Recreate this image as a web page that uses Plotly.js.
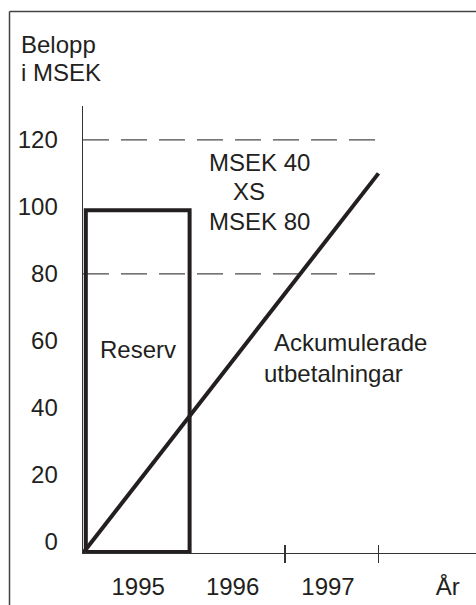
<!DOCTYPE html>
<html>
<head>
<meta charset="utf-8">
<script src="https://cdn.plot.ly/plotly-3.0.1.min.js"></script>
<style>
html,body{margin:0;padding:0;background:#fff;}
#chart{width:476px;height:605px;}
</style>
</head>
<body>
<div id="chart"></div>
<script>
// ---- data ----
const yearLabels = ['1995', '1996', '1997', 'År'];
const yearLabelVals = [1995.43, 1996.44, 1997.46, 1998.74];
const yearTickVals = [1997, 1998];
const yTickVals = [0, 20, 40, 60, 80, 100, 120];
const reserveX = [1994.87, 1994.87, 1995.98, 1995.98, 1994.87];
const reserveY = [-3.0, 99, 99, -3.0, -3.0];
const accumX = [1994.84, 1998.0];
const accumY = [-3.3, 110];
const limitLevels = [120, 80];          // MSEK 40 XS MSEK 80 layer
const limitX = [[1994.84, 1998.02], [1994.84, 1998.06]];

const X0 = 1994.84, X1 = 1999.043;
const Y0 = -3.28, Y1 = 130.1;
const ink = '#231f20';
const FONT = 'Liberation Sans, Arial, Helvetica, sans-serif';
const FS = 24;

const traces = [];
limitLevels.forEach((lv, i) => {
  traces.push({
    type: 'scatter', mode: 'lines', x: limitX[i], y: [lv, lv],
    line: {color: '#4a4a4a', width: 1.2, dash: '26px,12px'},
    hoverinfo: 'skip', showlegend: false
  });
});
traces.push({
  type: 'scatter', mode: 'lines', x: reserveX, y: reserveY,
  line: {color: ink, width: 4}, hoverinfo: 'skip', showlegend: false
});
traces.push({
  type: 'scatter', mode: 'lines', x: accumX, y: accumY,
  line: {color: ink, width: 4}, hoverinfo: 'skip', showlegend: false
});
// dummy traces for tick overlay axes
traces.push({type: 'scatter', x: [], y: [], xaxis: 'x2', yaxis: 'y', showlegend: false});
traces.push({type: 'scatter', x: [], y: [], xaxis: 'x3', yaxis: 'y', showlegend: false});

const txt = (text, x, y, xanchor, ref) => ({
  text, x, y, xref: ref ? 'paper' : 'x', yref: ref ? 'paper' : 'y',
  xanchor: xanchor || 'left', yanchor: 'middle',
  showarrow: false, font: {family: FONT, size: FS, color: ink}
});

const layout = {
  width: 476, height: 605,
  margin: {l: 83, r: 0, t: 106, b: 52},
  paper_bgcolor: '#fff', plot_bgcolor: '#fff',
  showlegend: false,
  font: {family: FONT, size: FS, color: ink},
  xaxis: {
    range: [X0, X1], showgrid: false, zeroline: false,
    showline: true, linecolor: '#333', linewidth: 1.4,
    tickmode: 'array', tickvals: yearLabelVals, ticktext: yearLabels,
    ticks: '', ticklabelstandoff: 12,
    tickfont: {family: FONT, size: FS, color: ink}
  },
  xaxis2: {
    overlaying: 'x', matches: 'x', range: [X0, X1], showgrid: false, zeroline: false,
    showline: false, tickmode: 'array', tickvals: yearTickVals,
    ticks: 'outside', ticklen: 9, tickwidth: 1.4, tickcolor: '#333',
    showticklabels: false, side: 'bottom', anchor: 'y'
  },
  xaxis3: {
    overlaying: 'x', matches: 'x', range: [X0, X1], showgrid: false, zeroline: false,
    showline: false, tickmode: 'array', tickvals: yearTickVals,
    ticks: 'inside', ticklen: 8, tickwidth: 1.4, tickcolor: '#333',
    showticklabels: false, side: 'bottom', anchor: 'y'
  },
  yaxis: {
    range: [Y0, Y1], showgrid: false, zeroline: false,
    showline: true, linecolor: '#333', linewidth: 1.4,
    tickmode: 'array', tickvals: yTickVals, ticks: '',
    ticklabelstandoff: 19,
    tickfont: {family: FONT, size: FS, color: ink}
  },
  shapes: [
    {type: 'line', xref: 'paper', yref: 'paper', x0: -0.187, x1: 1.2, y0: 1.2114, y1: 1.2114,
     line: {color: '#444', width: 1.5}},
    {type: 'line', xref: 'paper', yref: 'paper', x0: -0.187, x1: -0.187, y0: 1.2114, y1: -0.2,
     line: {color: '#444', width: 1.5}}
  ],
  annotations: [
    txt('Belopp', -0.1628, 1.1387, 'left', true),
    txt('i MSEK', -0.1628, 1.076, 'left', true),
    txt('MSEK 40', 1996.166, 113.1),
    txt('XS', 1996.423, 104.5),
    txt('MSEK 80', 1996.166, 95.5),
    txt('Reserv', 1995.428, 57.3, 'center'),
    txt('Ackumulerade', 1996.86, 59.4),
    txt('utbetalningar', 1996.75, 50.4)
  ]
};

Plotly.newPlot('chart', traces, layout, {staticPlot: true, displayModeBar: false});
</script>
</body>
</html>
